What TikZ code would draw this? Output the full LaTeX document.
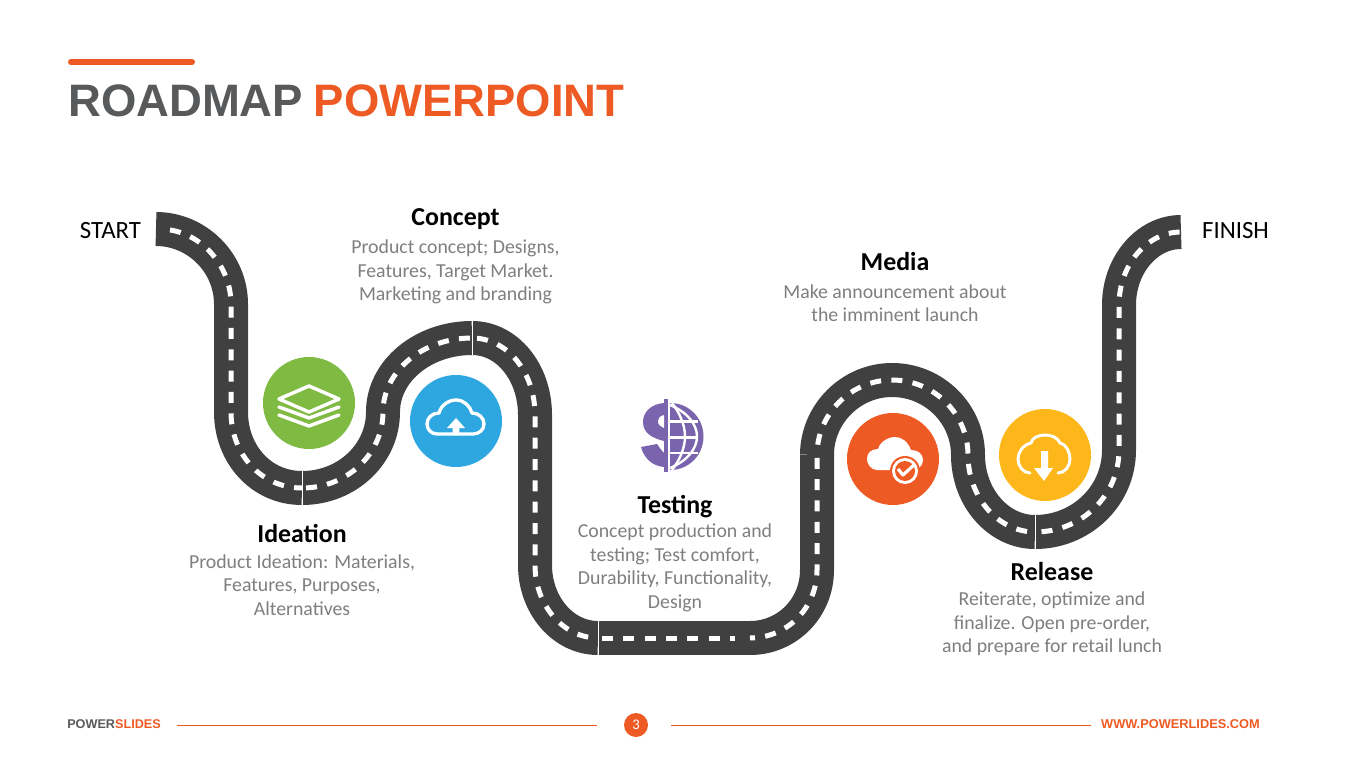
\documentclass[tikz,border=0pt]{standalone}
\usepackage{fontspec}
\setmainfont{Carlito}
\newfontfamily\arialfont{Liberation Sans}
\definecolor{roadgray}{HTML}{404040}
\definecolor{cgreen}{HTML}{7FBA42}
\definecolor{cblue}{HTML}{2EA7E0}
\definecolor{cpurple}{HTML}{7B64AE}
\definecolor{corange}{HTML}{EE5A24}
\definecolor{cyellow}{HTML}{FDB71A}
\definecolor{titlegray}{HTML}{58595B}
\definecolor{bodygray}{HTML}{7F7F7F}
\tikzset{
  road/.style={draw=roadgray,line width=25.5pt,line cap=butt,line join=round},
  lane/.style={draw=white,line width=3.75pt,dash pattern=on 8.25pt off 7.75pt,dash phase=#1},
  sep/.style={draw=white,line width=0.75pt},
  disc/.style={circle,fill=#1,minimum size=69pt,inner sep=0pt,draw=none},
  headtxt/.style={font=\fontsize{19.4}{21}\selectfont\bfseries,text=black,inner sep=0pt,anchor=base},
  bodytxt/.style={font=\fontsize{14.85}{17.7}\selectfont,text=bodygray,inner sep=0pt,align=center,anchor=center},
  endtxt/.style={font=\fontsize{18.6}{20}\selectfont,text=black,inner sep=0pt,anchor=base},
  iconline/.style={draw=white,line width=#1,line join=round,line cap=round},
}
\begin{document}
\begin{tikzpicture}[x=0.75pt,y=-0.75pt]
\useasboundingbox (0,0) rectangle (1365,767);
\fill[white] (0,0) rectangle (1365,767);
% title
\draw[corange,line width=4.5pt,line cap=round] (71,62) -- (192,62);
\node[inner sep=0pt,anchor=base west,font=\fontsize{34.1}{36}\selectfont\bfseries\arialfont] (title) at (68,117) {\textcolor{titlegray}{ROADMAP}\hspace{8pt}\textcolor{corange}{POWERPOINT}};
% road
\def\segA{(156,229) .. controls (197,229) and (231,263) .. (231,304) -- (231,412) .. controls (231,454) and (261,488) .. (302,488)}
\def\segB{(302,488) .. controls (347,488) and (383,454) .. (383,412) .. controls (383,371) and (423,338) .. (472,338)}
\def\segC{(472,338) .. controls (507,338) and (535,372) .. (535,415) -- (535,565) .. controls (535,605) and (563,638) .. (598,638)}
\def\segD{(598,638) -- (735,638)}
\def\segDb{(750,638) .. controls (787,638) and (817,608) .. (817,570) -- (817,455)}
\def\segDc{(817,455) .. controls (817,414) and (851,380) .. (892,380) .. controls (934,380) and (968,414) .. (968,455) .. controls (968,497) and (998,532) .. (1035,532)}
\def\segE{(1035,532) .. controls (1081,532) and (1119,496) .. (1119,450) -- (1119,305) .. controls (1119,265) and (1147,232) .. (1181,232)}
\foreach \s in {\segA,\segB,\segC,\segDb,\segDc,\segE}{\draw[road] \s;}
\draw[road] (598,638) -- (751,638);
\draw[lane=10.7pt] (163,229.2) .. controls (200,231) and (231,265) .. (231,304) -- (231,412) .. controls (231,454) and (261,488) .. (302,488);
\draw[lane=13pt] \segB;
\draw[lane=12.2pt] \segC;
\draw[lane=13pt] \segD;
\draw[lane=4.5pt] \segDb;
\draw[lane=8.25pt] \segDc;
\draw[lane=11.1pt] \segE;
\draw[sep] (302,471) -- (302,505);
\draw[sep] (472,320) -- (472,355);
\draw[sep] (598,621) -- (598,655);
\draw[sep] (1035,515) -- (1035,549);
% discs
\node[disc=cgreen] (dGreen) at (309,403) {};
\node[disc=cblue] (dBlue) at (456,421) {};
\node[disc=corange] (dOrange) at (893,459) {};
\node[disc=cyellow] (dYellow) at (1045,455) {};
% layers icon
\draw[iconline=2.6pt] (309,386) -- (339,399) -- (309,412) -- (279,399) -- cycle;
\draw[iconline=2.6pt] (279,407) -- (309,418) -- (339,407);
\draw[iconline=2.6pt] (279,415) -- (309,426) -- (339,415);
% upload cloud
\draw[iconline=2.5pt] (437,434) .. controls (431,434) and (427,429) .. (427,424) .. controls (427,418) and (432,413) .. (439,413) .. controls (441,405) and (449,400) .. (456,400) .. controls (464,400) and (470,406) .. (472,413) .. controls (479,413) and (484,418) .. (484,424) .. controls (484,430) and (479,434) .. (473,434) -- cycle;
\fill[white] (456,418) -- (465,428) -- (459.3,428) -- (459.3,435) -- (452.7,435) -- (452.7,428) -- (447,428) -- cycle;
% dollar globe
\fill[cpurple] (664,399) rectangle (667.5,472);
\fill[cpurple] (664,403) .. controls (651,404) and (643,412) .. (643,422) .. controls (643,433) and (652,438) .. (664,441) -- (664,453) .. controls (660,449) and (658,445) .. (657,444) -- (641,447) .. controls (644,458) and (652,466) .. (664,467) -- cycle;
\fill[white] (664,415) .. controls (660,416) and (658,418) .. (658,421) .. controls (658,425) and (661,427) .. (664,428) -- cycle;
\begin{scope}
\clip (670,403) -- (670,470) .. controls (689,470) and (703.5,455) .. (703.5,436.5) .. controls (703.5,418) and (689,403) .. (670,403) -- cycle;
\fill[cpurple] (670,403) rectangle (704,470);
\draw[white,line width=1.8pt] (670,405) .. controls (687,412) and (697,424) .. (697,436.5) .. controls (697,449) and (687,461) .. (670,468);
\draw[white,line width=1.8pt] (672,403) .. controls (679,412) and (685,424) .. (685,436.5) .. controls (685,449) and (679,461) .. (672,470);
\draw[white,line width=1.8pt] (670,421.5) -- (698,421.5);
\draw[white,line width=1.8pt] (670,437.5) -- (698,437.5);
\draw[white,line width=1.8pt] (670,453) -- (698,453);
\end{scope}
% orange cloud with check
\fill[white] (877,470) .. controls (871,470) and (867,464) .. (867,459) .. controls (867,453) and (871,449) .. (878,449) .. controls (880,442) and (888,437) .. (895,437) .. controls (902,437) and (908,442) .. (911,450) .. controls (918,450) and (923,454) .. (923,460) .. controls (923,466) and (918,470) .. (912,470) -- cycle;
\fill[corange] (905,471) circle (15);
\fill[white] (905,471) circle (13);
\fill[corange] (905,471) circle (10);
\draw[iconline=2.4pt,line cap=butt] (898,469) -- (903,475) -- (915,464);
% download cloud
\draw[iconline=2.2pt] (1030,473) .. controls (1023,473) and (1018,466) .. (1018,459) .. controls (1018,452) and (1023,445) .. (1031,443) .. controls (1032,438) and (1038,435) .. (1045,435) .. controls (1052,435) and (1058,438) .. (1060,443) .. controls (1066,444) and (1070,452) .. (1070,459) .. controls (1070,466) and (1065,473) .. (1058,473);
\fill[white] (1041,451) -- (1048,451) -- (1048,468) -- (1053,468) -- (1044,481) -- (1034,468) -- (1041,468) -- cycle;
% labels
\node[endtxt] (start) at (110.5,238) {START};
\node[endtxt] (finish) at (1235.5,238) {FINISH};
\node[headtxt] (h1) at (302,542) {Ideation};
\node[bodytxt] (b1) at (302,585) {Product Ideation: Materials,\\Features, Purposes,\\Alternatives};
\node[headtxt] (h2) at (455.5,225) {Concept};
\node[bodytxt] (b2) at (455.5,272) {Product concept; Designs,\\Features, Target Market.\\Marketing and branding};
\node[headtxt] (h3) at (675,513) {Testing};
\node[bodytxt] (b3) at (675,568) {Concept production and\\testing; Test comfort,\\Durability, Functionality,\\Design};
\node[headtxt] (h4) at (895,270) {Media};
\node[bodytxt] (b4) at (895,303) {Make announcement about\\the imminent launch};
\node[headtxt] (h5) at (1052,580) {Release};
\node[bodytxt] (b5) at (1052,624) {Reiterate, optimize and\\finalize. Open pre-order,\\and prepare for retail lunch};
% footer
\node[inner sep=0pt,anchor=base west,font=\fontsize{9.5}{10}\selectfont\bfseries\arialfont] (fl) at (67,728) {\textcolor{titlegray}{POWER}\textcolor{corange}{SLIDES}};
\node[circle,fill=corange,minimum size=18pt,inner sep=0pt,text=white,font=\fontsize{11}{12}\selectfont] (pg) at (636,725) {3};
\node[inner sep=0pt,anchor=base east,font=\fontsize{9.6}{10}\selectfont\bfseries\arialfont,text=corange] (fr) at (1260,728) {WWW.POWERLIDES.COM};
\coordinate (la) at (177,725);
\coordinate (lb) at (597,726.4);
\coordinate (lc) at (671,725);
\coordinate (ld) at (1091,726.4);
\fill[corange] (la) rectangle (lb);
\fill[corange] (lc) rectangle (ld);
\end{tikzpicture}
\end{document}
